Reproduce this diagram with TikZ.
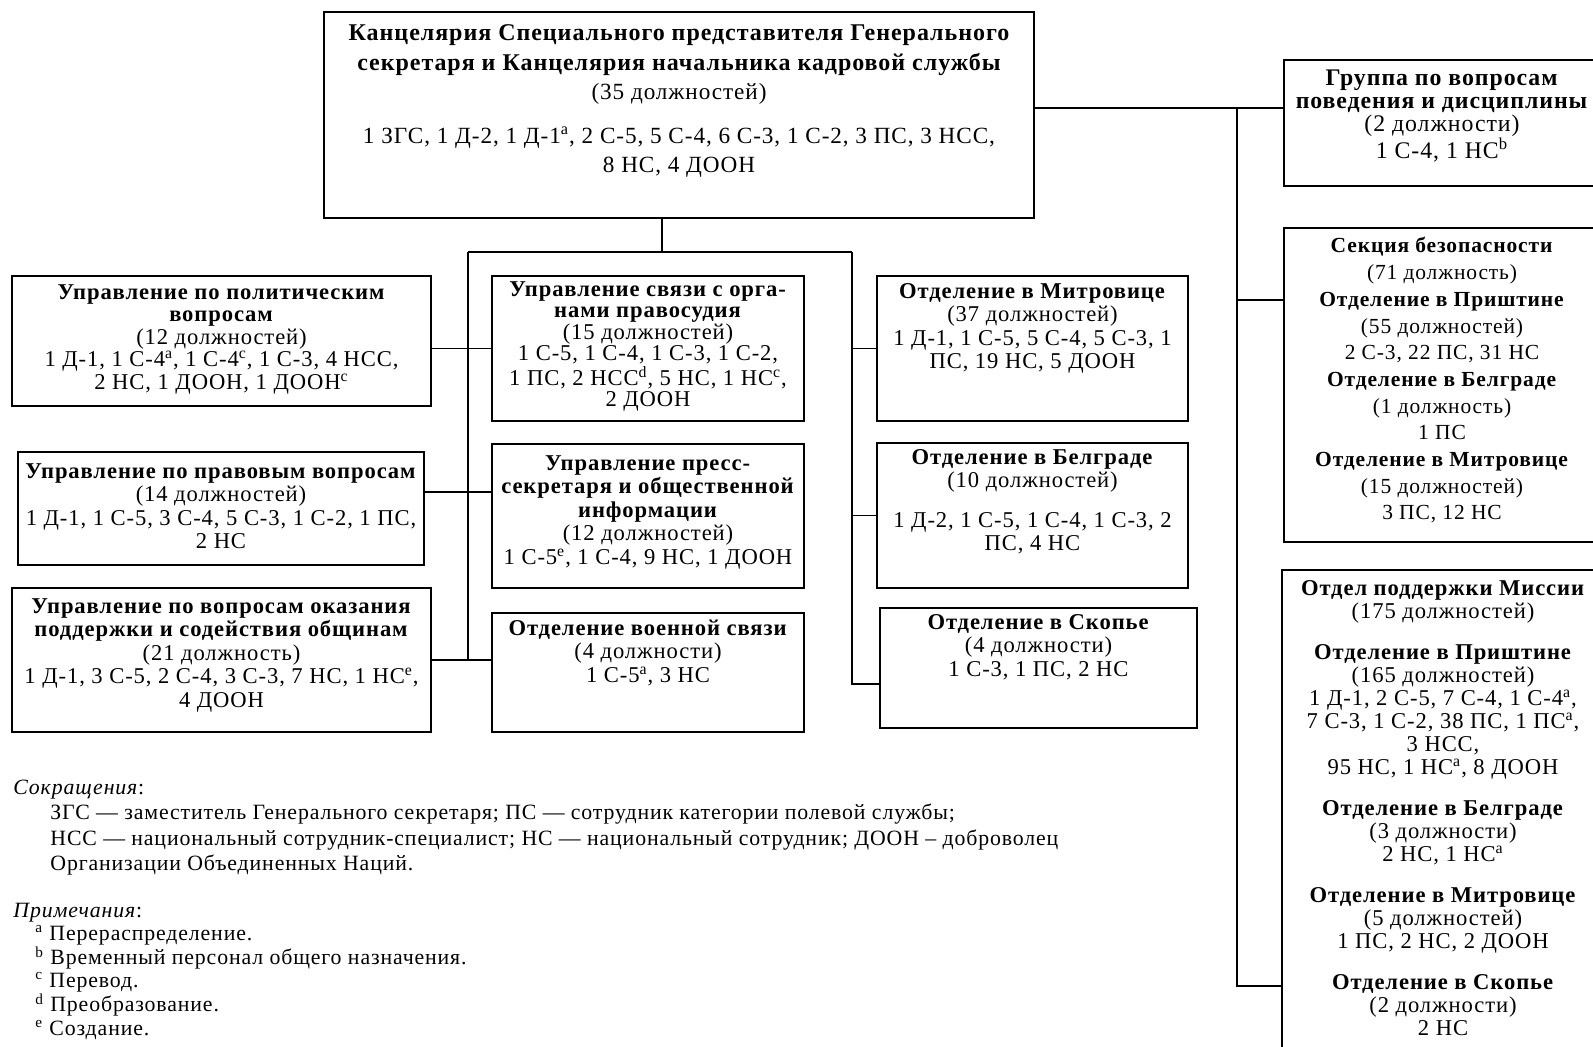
\documentclass[tikz,border=0pt]{standalone}
\usepackage{fontspec}
\setmainfont[LetterSpace=4]{Liberation Serif}
\usetikzlibrary{positioning,fit}

\begin{document}
\begin{tikzpicture}[
    x=0.5pt, y=-0.5pt,
    frame/.style={draw, line width=0.9pt, inner sep=0pt},
    lbl/.style={align=center, inner sep=0pt, font=\fontsize{11.3}{11.75}\selectfont},
    note/.style={anchor=west, inner sep=0pt, font=\fontsize{10.9}{12}\selectfont},
    link/.style={line width=0.6pt}
  ]
  \useasboundingbox (0,0) rectangle (1593,1046);

  % frames
  \node[frame, fit={(324,12) (1034,218)}] (chief) {};
  \node[frame, fit={(1284,60) (1600,186)}] (conduct) {};
  \node[frame, fit={(1284,228) (1600,542)}] (security) {};
  \node[frame, fit={(1282,570) (1604,1060)}] (support) {};
  \node[frame, fit={(12,276) (431,406)}] (political) {};
  \node[frame, fit={(18,452) (424,565)}] (legal) {};
  \node[frame, fit={(12,588) (431,732)}] (community) {};
  \node[frame, fit={(492,276) (804,421)}] (justice) {};
  \node[frame, fit={(492,444) (804,588)}] (press) {};
  \node[frame, fit={(492,613) (804,732)}] (military) {};
  \node[frame, fit={(877,276) (1188,421)}] (mitrovica) {};
  \node[frame, fit={(877,443) (1188,588)}] (belgrade) {};
  \node[frame, fit={(880,608) (1197,728)}] (skopje) {};

  % texts
  \node[lbl, font=\fontsize{11.6}{14.8}\selectfont, below=6.5pt of chief.north] (chiefT)
    {{\fontsize{12}{14.8}\selectfont\bfseries Канцелярия Специального представителя Генерального}\\
     {\fontsize{12}{14.8}\selectfont\bfseries секретаря и Канцелярия начальника кадровой службы}\\
     (35 должностей)\\[7pt]
     1 ЗГС, 1 Д-2, 1 Д-1\textsuperscript{a}, 2 С-5, 5 С-4, 6 С-3, 1 С-2, 3 ПС, 3 НСС,\\
     8 НС, 4 ДООН};
  \node[lbl, font=\fontsize{11.9}{11.5}\selectfont, below=5pt of conduct.north] (conductT)
    {\textbf{Группа по вопросам}\\ \textbf{поведения и дисциплины}\\
     (2 должности)\\ 1 С-4, 1 НС\textsuperscript{b}};
  \node[lbl, font=\fontsize{10.75}{13.35}\selectfont, below=5pt of security.north] (securityT)
    {\textbf{Секция безопасности}\\ (71 должность)\\
     \textbf{Отделение в Приштине}\\ (55 должностей)\\ 2 С-3, 22 ПС, 31 НС\\
     \textbf{Отделение в Белграде}\\ (1 должность)\\ 1 ПС\\
     \textbf{Отделение в Митровице}\\ (15 должностей)\\ 3 ПС, 12 НС};
  \node[lbl, font=\fontsize{11.3}{11.5}\selectfont, below=5.5pt of support.north] (supportT)
    {\textbf{Отдел поддержки Миссии}\\ (175 должностей)\\[9pt]
     \textbf{Отделение в Приштине}\\ (165 должностей)\\
     1 Д-1, 2 С-5, 7 С-4, 1 С-4\textsuperscript{a},\\
     7 С-3, 1 С-2, 38 ПС, 1 ПС\textsuperscript{a},\\ 3 НСС,\\
     95 НС, 1 НС\textsuperscript{a}, 8 ДООН\\[9pt]
     \textbf{Отделение в Белграде}\\ (3 должности)\\ 2 НС, 1 НС\textsuperscript{a}\\[9pt]
     \textbf{Отделение в Митровице}\\ (5 должностей)\\ 1 ПС, 2 НС, 2 ДООН\\[9pt]
     \textbf{Отделение в Скопье}\\ (2 должности)\\ 2 НС};
  \node[lbl, font=\fontsize{11.3}{11.25}\selectfont, below=4.5pt of political.north] (politicalT)
    {\textbf{Управление по политическим}\\ \textbf{вопросам}\\ (12 должностей)\\
     1 Д-1, 1 С-4\textsuperscript{a}, 1 С-4\textsuperscript{c}, 1 С-3, 4 НСС,\\
     2 НС, 1 ДООН, 1 ДООН\textsuperscript{c}};
  \node[lbl, below=6pt of legal.north] (legalT)
    {\textbf{Управление по правовым вопросам}\\ (14 должностей)\\
     1 Д-1, 1 С-5, 3 С-4, 5 С-3, 1 С-2, 1 ПС,\\ 2 НС};
  \node[lbl, below=5.5pt of community.north] (communityT)
    {\textbf{Управление по вопросам оказания}\\ \textbf{поддержки и содействия общинам}\\
     (21 должность)\\
     1 Д-1, 3 С-5, 2 С-4, 3 С-3, 7 НС, 1 НС\textsuperscript{e},\\ 4 ДООН};
  \node[lbl, font=\fontsize{11.3}{10.75}\selectfont, below=3pt of justice.north] (justiceT)
    {\textbf{Управление связи с орга-}\\ \textbf{нами правосудия}\\ (15 должностей)\\
     1 С-5, 1 С-4, 1 С-3, 1 С-2,\\
     1 ПС, 2 НСС\textsuperscript{d}, 5 НС, 1 НС\textsuperscript{c},\\ 2 ДООН};
  \node[lbl, below=6pt of press.north] (pressT)
    {\textbf{Управление пресс-}\\ \textbf{секретаря и общественной}\\ \textbf{информации}\\
     (12 должностей)\\ 1 С-5\textsuperscript{e}, 1 С-4, 9 НС, 1 ДООН};
  \node[lbl, below=3.5pt of military.north] (militaryT)
    {\textbf{Отделение военной связи}\\ (4 должности)\\ 1 С-5\textsuperscript{a}, 3 НС};
  \node[lbl, below=4pt of mitrovica.north] (mitrovicaT)
    {\textbf{Отделение в Митровице}\\ (37 должностей)\\
     1 Д-1, 1 С-5, 5 С-4, 5 С-3, 1\\ ПС, 19 НС, 5 ДООН};
  \node[lbl, below=3.5pt of belgrade.north] (belgradeT)
    {\textbf{Отделение в Белграде}\\ (10 должностей)\\[8pt]
     1 Д-2, 1 С-5, 1 С-4, 1 С-3, 2\\ ПС, 4 НС};
  \node[lbl, below=3.5pt of skopje.north] (skopjeT)
    {\textbf{Отделение в Скопье}\\ (4 должности)\\ 1 С-3, 1 ПС, 2 НС};

  % connectors
  \coordinate (drop) at (662,252);
  \coordinate (busL) at (468,252);
  \coordinate (busR) at (852,252);
  \coordinate (rail) at (1237,108);
  \draw[link] (drop |- chief.south) -- (drop);
  \draw[link] (busL) -- (busR);
  \draw[link] (busL) -- (busL |- community.east);
  \draw[link] (justice.west) -- (justice.west -| political.east);
  \draw[link] (legal.east |- 0,492) -- (press.west |- 0,492);
  \draw[link] (community.east) -- (community.east -| military.west);
  \draw[link] (busR) |- (skopje.west |- 0,684);
  \draw[link] (mitrovica.west) -- (mitrovica.west -| busR);
  \draw[link] (belgrade.west) -- (belgrade.west -| busR);
  \draw[link] (chief.east |- rail) -- (conduct.west |- rail);
  \draw[link] (rail) |- (support.west |- 0,986);
  \draw[link] (rail |- 0,300) -- (security.west |- 0,300);

  % legend
  \node[note] (abbr) at (13,790) {\textit{Сокращения}:};
  \node[note] (abbr1) at (50,814) {ЗГС — заместитель Генерального секретаря; ПС — сотрудник категории полевой службы;};
  \node[note] (abbr2) at (50,840) {НСС — национальный сотрудник-специалист; НС — национальный сотрудник; ДООН – доброволец};
  \node[note] (abbr3) at (50,865) {Организации Объединенных Наций.};
  \node[note] (notes) at (13,913) {\textit{Примечания}:};
  \node[note] (na) at (35,935) {\textsuperscript{a} Перераспределение.};
  \node[note] (nb) at (35,958) {\textsuperscript{b} Временный персонал общего назначения.};
  \node[note] (nc) at (35,982) {\textsuperscript{c} Перевод.};
  \node[note] (nd) at (35,1005) {\textsuperscript{d} Преобразование.};
  \node[note] (ne) at (35,1030) {\textsuperscript{e} Создание.};
\end{tikzpicture}
\end{document}
